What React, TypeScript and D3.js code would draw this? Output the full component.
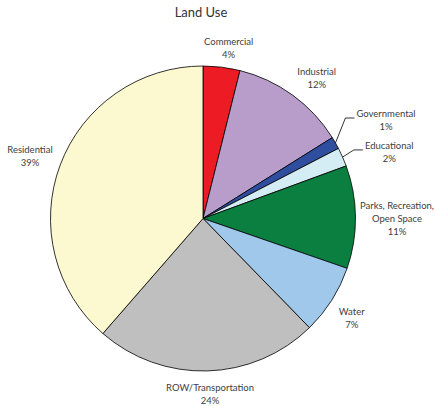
import { useEffect, useRef } from 'react'
import * as d3 from 'd3'

// slices, clockwise from 12 o'clock
const categories = [
  'Commercial',
  'Industrial',
  'Governmental',
  'Educational',
  'Parks, Recreation, Open Space',
  'Water',
  'ROW/Transportation',
  'Residential',
]
const shares = [3.9, 12.2, 1.3, 2.0, 10.9, 7.4, 23.7, 38.6]
const sliceColors = ['#ED1C24', '#B89CCA', '#2F4E9F', '#D4ECF3', '#0A7F40', '#9FC8EA', '#BFBFBF', '#FCF8CF']

// manual label moves (these labels get leader lines)
const leaderNudge: Record<string, [number, number]> = {
  Governmental: [14, -10],
  Educational: [15, 5],
}

function wrapLabel(name: string) {
  if (name === 'Parks, Recreation, Open Space') return ['Parks, Recreation,', 'Open Space']
  return [name]
}

export default function App() {
  const svgRef = useRef<SVGSVGElement>(null)

  useEffect(() => {
    if (!svgRef.current) return
    const svg = d3.select(svgRef.current)
    svg.selectAll('*').remove()

    const cx = 203
    const cy = 218.5
    const radius = 152.5
    const lineH = 13
    const total = d3.sum(shares)
    const fmt = d3.format('.0%')

    svg.append('text')
      .attr('x', 201)
      .attr('y', 17)
      .attr('text-anchor', 'middle')
      .style('font-family', 'Lato, "Noto Sans", sans-serif')
      .style('font-size', '13px')
      .style('fill', '#333')
      .text('Land Use')

    const g = svg.append('g').attr('transform', `translate(${cx},${cy})`)

    const pie = d3.pie<number>().sort(null).value(d => d)
    const arcs = pie(shares)
    const arc = d3.arc<d3.PieArcDatum<number>>().innerRadius(0).outerRadius(radius)

    g.selectAll('path.slice')
      .data(arcs)
      .join('path')
      .attr('class', 'slice')
      .attr('d', arc)
      .attr('fill', (_d, i) => sliceColors[i])
      .attr('stroke', '#000')
      .attr('stroke-width', 0.8)
      .attr('stroke-linejoin', 'round')

    arcs.forEach((d, i) => {
      const name = categories[i]
      const lines = [...wrapLabel(name), fmt(shares[i] / total)]
      const lg = g.append('g')
      const txt = lg.append('text')
        .attr('text-anchor', 'middle')
        .style('font-family', 'Lato, "Noto Sans", sans-serif')
        .style('font-size', '9.5px')
        .style('fill', '#404040')
      lines.forEach((ln, k) => {
        txt.append('tspan').attr('x', 0).attr('y', k * lineH).text(ln)
      })
      const w = (txt.node() as SVGTextElement).getBBox().width
      const h = lines.length * lineH
      const mid = (d.startAngle + d.endAngle) / 2
      const s = Math.sin(mid)
      const c = Math.cos(mid)
      const R = radius + 8
      let x = R * s + Math.sign(s) * Math.min(1, 2 * Math.abs(s)) * w / 2
      let y = -R * c - Math.sign(c) * Math.min(1, 1.7 * Math.abs(c)) * h / 2
      const nudge = leaderNudge[name]
      if (nudge) {
        x += nudge[0]
        y += nudge[1]
        const left = x - w / 2 - 2
        g.append('polyline')
          .attr('points', [
            [radius * s, -radius * c],
            [left - 9, y],
            [left, y],
          ].map(p => p.join(',')).join(' '))
          .attr('fill', 'none')
          .attr('stroke', '#000')
          .attr('stroke-width', 0.8)
      }
      // keep inside the drawing area
      const maxX = 434 - cx - w / 2
      if (x > maxX) x = maxX
      const firstBase = y - h / 2 + lineH / 2 + 5.5
      lg.attr('transform', `translate(${x},${firstBase})`)
    })
  }, [])

  return (
    <svg
      ref={svgRef}
      width={436}
      height={406}
      style={{ position: 'absolute', left: 0, top: 0, background: '#fff' }}
    />
  )
}
